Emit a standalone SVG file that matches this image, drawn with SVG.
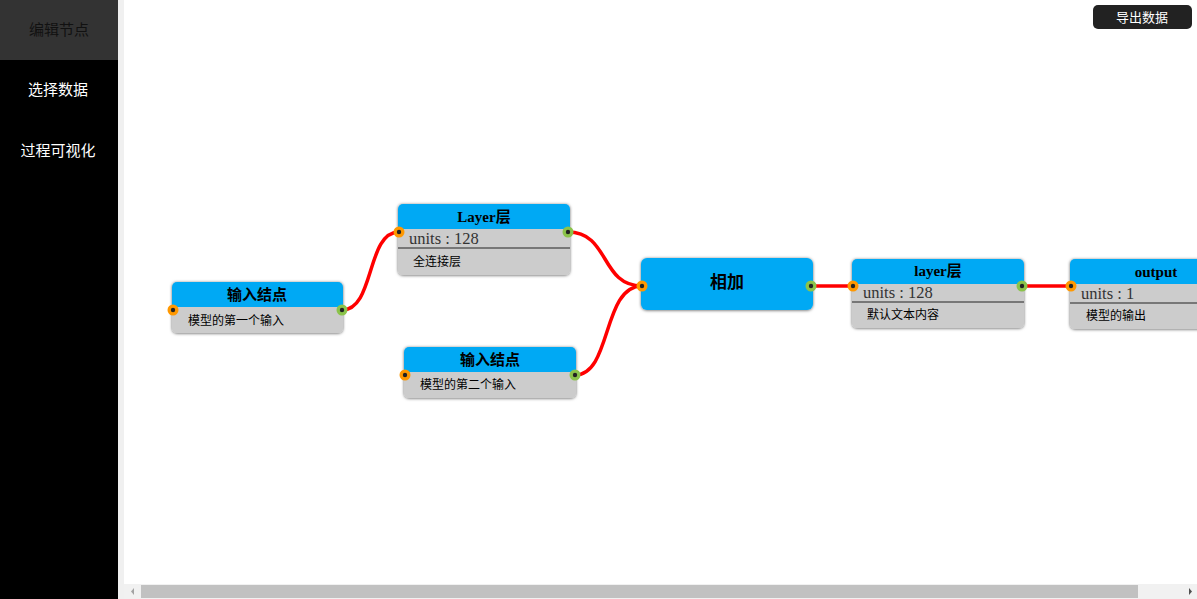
<svg xmlns="http://www.w3.org/2000/svg" width="1197" height="599" viewBox="0 0 1197 599">
<style>
.side{font-family:"Noto Sans CJK SC","Noto Sans",sans-serif;font-size:15px;text-anchor:middle;fill:#fff}
.nb{fill:#ccc}
.nh{fill:#03a9f4}
.title{font-family:"Liberation Serif","Noto Sans CJK SC",serif;font-weight:bold;font-size:15px;text-anchor:middle;fill:#000}
.units{font-family:"Liberation Serif","Noto Serif CJK SC",serif;font-size:16.5px;fill:#333}
.desc{font-family:"Noto Sans CJK SC","Noto Sans",sans-serif;font-size:12px;fill:#000}
.sep{stroke:#222;stroke-width:1}
.pin{fill:#ff9800}
.pout{fill:#8bc34a}
.dot{fill:#222}
.wire{fill:none;stroke:#f00;stroke-width:3.5}
</style>
<defs>
<filter id="sh" x="-10%" y="-20%" width="120%" height="140%">
<feDropShadow dx="0" dy="0.5" stdDeviation="1.8" flood-color="#000" flood-opacity="0.6"/>
</filter>
</defs>
<rect x="0" y="0" width="1197" height="599" fill="#fff"/>
<g id="sidebar">
<rect x="0" y="0" width="118" height="599" fill="#000"/>
<rect x="118" y="0" width="6" height="599" fill="#f0f0f0"/>
<rect x="0" y="0" width="118" height="60" fill="#333"/>
<text class="side" x="59" y="35" style="fill:#111">编辑节点</text>
<text class="side" x="58" y="95">选择数据</text>
<text class="side" x="58" y="156">过程可视化</text>
</g>
<g id="export">
<rect x="1093" y="5" width="99" height="24" rx="5" fill="#222"/>
<text x="1142" y="22" font-family="Noto Sans CJK SC,sans-serif" font-size="13" fill="#fff" text-anchor="middle">导出数据</text>
</g>
<g id="connectors">
<path class="wire" d="M342,310 C375,310 366,232 399,232"/>
<path class="wire" d="M568,232 C610,232 600,286 642,286"/>
<path class="wire" d="M575,375 C612,375 602,286 642,286"/>
<path class="wire" d="M811,286 L853,286"/>
<path class="wire" d="M1022,286 L1071,286"/>
</g>
<g id="node-input1">
<g filter="url(#sh)">
<rect class="nb" x="172" y="282" width="171" height="51" rx="5"/>
<path class="nh" d="M172,307 V287 a5,5 0 0 1 5,-5 H338 a5,5 0 0 1 5,5 V307 Z"/>
</g>
<text class="title" x="257" y="300">输入结点</text>
<text class="desc" x="188" y="325">模型的第一个输入</text>
<circle class="pin" cx="173" cy="310" r="5.5"/><circle class="dot" cx="173" cy="310" r="2.2"/>
<circle class="pout" cx="342" cy="310" r="5.5"/><circle class="dot" cx="342" cy="310" r="2.2"/>
</g>
<g id="node-layer1">
<g filter="url(#sh)">
<rect class="nb" x="398" y="204" width="172" height="71" rx="5"/>
<path class="nh" d="M398,229 V209 a5,5 0 0 1 5,-5 H565 a5,5 0 0 1 5,5 V229 Z"/>
</g>
<text class="title" x="484" y="222">Layer层</text>
<text class="units" x="409" y="244">units : 128</text>
<line class="sep" x1="398" y1="248" x2="570" y2="248"/>
<text class="desc" x="413" y="266">全连接层</text>
<circle class="pin" cx="399" cy="232" r="5.5"/><circle class="dot" cx="399" cy="232" r="2.2"/>
<circle class="pout" cx="568" cy="232" r="5.5"/><circle class="dot" cx="568" cy="232" r="2.2"/>
</g>
<g id="node-input2">
<g filter="url(#sh)">
<rect class="nb" x="404" y="347" width="172" height="51" rx="5"/>
<path class="nh" d="M404,372 V352 a5,5 0 0 1 5,-5 H571 a5,5 0 0 1 5,5 V372 Z"/>
</g>
<text class="title" x="490" y="365">输入结点</text>
<text class="desc" x="420" y="389">模型的第二个输入</text>
<circle class="pin" cx="405" cy="375" r="5.5"/><circle class="dot" cx="405" cy="375" r="2.2"/>
<circle class="pout" cx="575" cy="375" r="5.5"/><circle class="dot" cx="575" cy="375" r="2.2"/>
</g>
<g id="node-add">
<rect class="nh" x="641" y="258" width="172" height="52" rx="6" filter="url(#sh)"/>
<text class="title" x="727" y="288" style="font-size:17px">相加</text>
<circle class="pin" cx="642" cy="286" r="5.5"/><circle class="dot" cx="642" cy="286" r="2.2"/>
<circle class="pout" cx="811" cy="286" r="5.5"/><circle class="dot" cx="811" cy="286" r="2.2"/>
</g>
<g id="node-layer2">
<g filter="url(#sh)">
<rect class="nb" x="852" y="259" width="172" height="69" rx="5"/>
<path class="nh" d="M852,284 V264 a5,5 0 0 1 5,-5 H1019 a5,5 0 0 1 5,5 V284 Z"/>
</g>
<text class="title" x="938" y="276">layer层</text>
<text class="units" x="863" y="298">units : 128</text>
<line class="sep" x1="852" y1="302" x2="1024" y2="302"/>
<text class="desc" x="867" y="319">默认文本内容</text>
<circle class="pin" cx="853" cy="286" r="5.5"/><circle class="dot" cx="853" cy="286" r="2.2"/>
<circle class="pout" cx="1022" cy="286" r="5.5"/><circle class="dot" cx="1022" cy="286" r="2.2"/>
</g>
<g id="node-output">
<g filter="url(#sh)">
<rect class="nb" x="1070" y="259" width="170" height="70" rx="5"/>
<path class="nh" d="M1070,284 V264 a5,5 0 0 1 5,-5 H1240 V284 Z"/>
</g>
<text class="title" x="1156" y="277">output</text>
<text class="units" x="1081" y="299">units : 1</text>
<line class="sep" x1="1070" y1="303" x2="1197" y2="303"/>
<text class="desc" x="1086" y="320">模型的输出</text>
<circle class="pin" cx="1071" cy="286" r="5.5"/><circle class="dot" cx="1071" cy="286" r="2.2"/>
</g>
<g id="scrollbar">
<rect x="124" y="584" width="1073" height="15" fill="#f1f1f1"/>
<rect x="141" y="585" width="997" height="13" fill="#c1c1c1"/>
<path d="M134,588 L131,591.5 L134,595 Z" fill="#a3a3a3"/>
<path d="M1189,588 L1192,591.5 L1189,595 Z" fill="#505050"/>
</g>
</svg>
